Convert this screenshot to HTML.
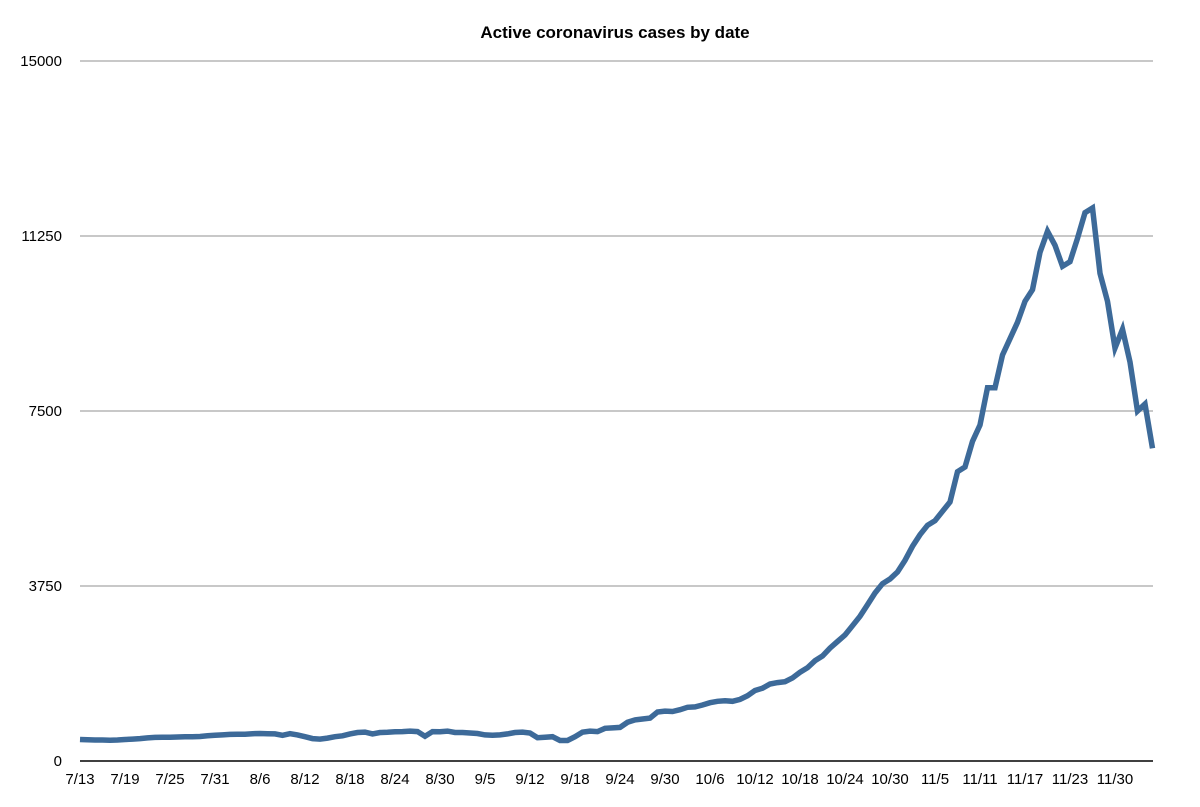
<!DOCTYPE html>
<html><head><meta charset="utf-8"><style>
body{margin:0;background:#fff;}
svg{display:block;font-family:"Liberation Sans",Arial,sans-serif;}
</style></head><body>
<svg width="1200" height="807" id="chart">
<text x="615" y="38" text-anchor="middle" font-size="17" font-weight="bold" fill="#000">Active coronavirus cases by date</text>
<g id="grid"></g><g id="yticks"></g><g id="xticks"></g><g id="series"></g>
</svg>
<script>
const xLabels=["7/13","7/19","7/25","7/31","8/6","8/12","8/18","8/24","8/30","9/5","9/12","9/18","9/24","9/30","10/6","10/12","10/18","10/24","10/30","11/5","11/11","11/17","11/23","11/30"];
const yTicks=[0,3750,7500,11250,15000];
const cases=[460,455,450,450,445,450,460,470,480,495,
505,510,510,515,520,520,525,540,550,560,
570,575,575,585,590,585,580,550,585,560,
520,480,470,490,520,540,580,610,620,580,
610,615,625,630,640,630,530,630,625,640,
610,610,600,590,560,550,560,580,610,620,
600,500,510,520,440,440,520,
620,640,630,700,710,720,830,880,900,920,1050,1070,1060,
1100,1150,1160,1200,1250,1280,1290,1280,1320,1400,
1510,1560,1650,1680,1700,1780,1900,2000,2150,2250,
2420,2560,2700,2900,3100,3350,3600,3800,3900,4050,
4300,4600,4850,5050,5150,5350,5550,6200,6300,6850,
7200,8000,8000,8700,9050,9400,9850,10100,10900,11350,
11050,10600,10700,11200,11750,11850,10450,9850,8850,9250,8550,7500,7650,6700];
const NS="http://www.w3.org/2000/svg";
const X0=80,DX=7.5,Y0=761,YTOP=61,YMAX=15000;
const xs=i=>X0+i*DX;
const ys=v=>Y0-(v/YMAX)*(Y0-YTOP);
function mk(t,a,p){const e=document.createElementNS(NS,t);for(const k in a)e.setAttribute(k,a[k]);p.appendChild(e);return e;}
const grid=document.getElementById('grid'),yt=document.getElementById('yticks'),xt=document.getElementById('xticks'),ser=document.getElementById('series');
yTicks.forEach(v=>{
  const l=mk('line',{x1:80,x2:1153,y1:ys(v),y2:ys(v),stroke:v===0?'#000':'#a8a8a8','stroke-width':v===0?1.5:1.2},grid);
  
  
  const t=mk('text',{x:62,y:ys(v)+5,'text-anchor':'end','font-size':15,fill:'#000'},yt);
  t.textContent=String(v);
  
  
});
xLabels.forEach((s,i)=>{
  const t=mk('text',{x:xs(i*6),y:784,'text-anchor':'middle','font-size':15,fill:'#000'},xt);
  t.textContent=s;
  
  
});
const d=cases.map((v,i)=>(i?'L':'M')+xs(i).toFixed(1)+' '+ys(v).toFixed(1)).join(' ');
const p=mk('path',{d:d,fill:'none',stroke:'#3d6a99','stroke-width':5.5,'stroke-linejoin':'miter','stroke-linecap':'butt'},ser);


</script>
</body></html>
